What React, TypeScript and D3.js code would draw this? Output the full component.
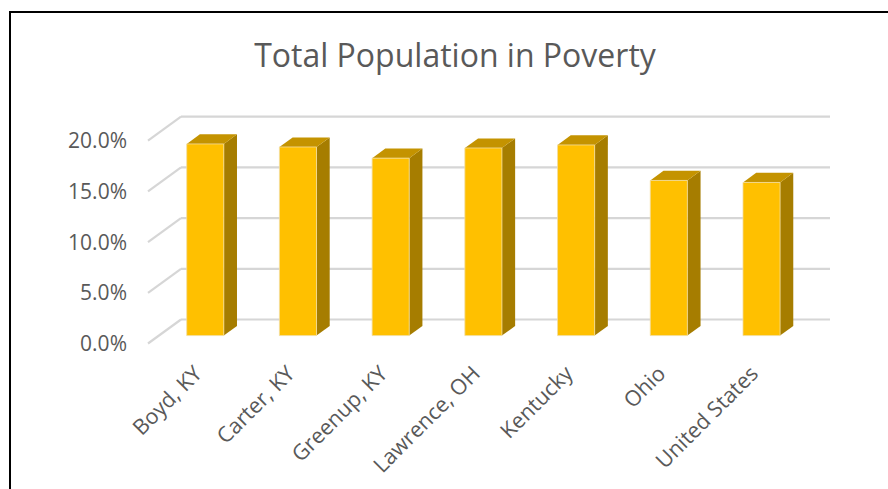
import React from "react";
import * as d3 from "d3";

const categories = ["Boyd, KY", "Carter, KY", "Greenup, KY", "Lawrence, OH", "Kentucky", "Ohio", "United States"];
const values = [0.189, 0.186, 0.175, 0.185, 0.188, 0.153, 0.151];
const yTicks = [0, 0.05, 0.1, 0.15, 0.2];
const title = "Total Population in Poverty";

const W = 888;
const H = 489;
const DX = -33; // depth vector back -> front
const DY = 24;
const T_FRONT = 0.67;
const T_BACK = 0.27;
const FONT = "'Open Sans', sans-serif";
const TEXT = "#595959";

export default function App() {
  const x = d3.scaleBand<string>().domain(categories).range([181, 830]).paddingInner(0.6).paddingOuter(0.3);
  const y = d3.scaleLinear().domain([0, 0.2]).range([319.5, 116.7]);
  const fmt = d3.format(".1%");
  const pt = (px: number, py: number, t: number) => [px + t * DX, py + t * DY];
  const poly = (pts: number[][]) => pts.map((p) => p.join(",")).join(" ");

  return (
    <svg width={W} height={H} style={{ position: "absolute", left: 0, top: 0, background: "#fff" }}>
      <rect x={0} y={0} width={W} height={H} fill="#fff" />
      {/* border */}
      <path d={`M10,${H} L10,12 L${W},12`} fill="none" stroke="#000" strokeWidth={2} />
      <text x={455} y={66.7} textAnchor="middle" fontFamily={FONT} fontSize={32} fill={TEXT}>
        {title}
      </text>
      {/* gridlines */}
      {yTicks.map((v) => {
        const yy = y(v);
        const [fx, fy] = pt(181, yy, 1);
        return (
          <g key={v}>
            <line x1={181} x2={830} y1={yy} y2={yy} stroke="#d6d6d6" strokeWidth={2.2} />
            <line x1={181} y1={yy} x2={fx} y2={fy} stroke="#d6d6d6" strokeWidth={2.2} />
            <text x={fx - 21} y={fy} dy="0.36em" textAnchor="end" fontFamily={FONT} fontSize={21} fill={TEXT}>
              {fmt(v)}
            </text>
          </g>
        );
      })}
      {/* bars */}
      {categories.map((c, i) => {
        const x0 = x(c)!;
        const x1 = x0 + x.bandwidth();
        const y0 = y(0);
        const yv = y(values[i]);
        const fbl = pt(x0, y0, T_FRONT);
        const fbr = pt(x1, y0, T_FRONT);
        const ftl = pt(x0, yv, T_FRONT);
        const ftr = pt(x1, yv, T_FRONT);
        const bbr = pt(x1, y0, T_BACK);
        const btl = pt(x0, yv, T_BACK);
        const btr = pt(x1, yv, T_BACK);
        const cx = (fbl[0] + fbr[0]) / 2;
        return (
          <g key={c}>
            <polygon points={poly([fbr, bbr, btr, ftr])} fill="#A67D00" />
            <polygon points={poly([ftl, ftr, btr, btl])} fill="#C49300" />
            <polygon points={poly([fbl, fbr, ftr, ftl])} fill="#FFC000" stroke="#F2DDA0" strokeWidth={0.8} />
            <text
              transform={`translate(${cx - 2},375) rotate(-45)`}
              textAnchor="end"
              fontFamily={FONT}
              fontSize={21.5}
              fill={TEXT}
            >
              {c}
            </text>
          </g>
        );
      })}
    </svg>
  );
}
